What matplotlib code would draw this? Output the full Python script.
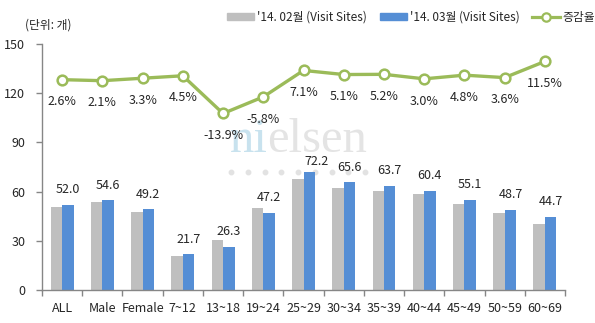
import matplotlib.pyplot as plt
import numpy as np
from matplotlib.lines import Line2D
from matplotlib.patches import Patch

plt.rcParams['font.family'] = ['Noto Sans CJK KR', 'DejaVu Sans']

groups = ["ALL", "Male", "Female", "7~12", "13~18", "19~24", "25~29",
          "30~34", "35~39", "40~44", "45~49", "50~59", "60~69"]
feb_sites = [50.7, 53.5, 47.6, 20.8, 30.5, 50.1, 67.4, 62.4, 60.6, 58.6, 52.6, 47.0, 40.1]
mar_sites = [52.0, 54.6, 49.2, 21.7, 26.3, 47.2, 72.2, 65.6, 63.7, 60.4, 55.1, 48.7, 44.7]
growth = [2.6, 2.1, 3.3, 4.5, -13.9, -5.8, 7.1, 5.1, 5.2, 3.0, 4.8, 3.6, 11.5]

GRAY = '#BFBFBF'
BLUE = '#558ED5'
GREEN = '#9BBB59'
AXIS = '#868686'
TXT = '#262626'

fig = plt.figure(figsize=(5.95, 3.23), dpi=100)
ax = fig.add_axes([0.0706, 0.1022, 0.879, 0.7616])
ax.patch.set_visible(False)

# watermark behind everything
t1 = fig.text(0.386, 0.498, "ni", family='Liberation Serif', fontsize=35,
              color='#C8E2EE', ha='left', va='bottom', zorder=-1)
ax.annotate("elsen", xy=(1, 0), xycoords=t1, family='Liberation Serif', fontsize=35,
            color='#E4E4E4', ha='left', va='bottom', zorder=0, annotation_clip=False)
dots_x = np.linspace(231, 365, 9) / 595
fig.add_artist(Line2D(dots_x, [1 - 172 / 323] * 9, ls='none', marker='o', ms=3.2,
                      color='#E2E2E2', transform=fig.transFigure, zorder=-1))

x = np.arange(len(groups))
w = 0.285
ax.bar(x - w / 2, feb_sites, w, color=GRAY, zorder=2)
ax.bar(x + w / 2, mar_sites, w, color=BLUE, zorder=2)

# value labels over the March bars (25~29 label pushed aside a little)
nudge = {6: (5, -4)}
for i, v in enumerate(mar_sites):
    dx, dy = nudge.get(i, (0, 0))
    ax.annotate(f"{v:.1f}", (x[i] + w / 2, v), xytext=(dx, 11 + dy),
                textcoords='offset points', ha='center', va='center',
                fontsize=9, color=TXT, zorder=5)

ax.set_xlim(-0.5, len(groups) - 0.5)
ax.set_ylim(0, 150)
ax.set_yticks(range(0, 151, 30))
ax.set_xticks(np.arange(-0.5, len(groups), 1.0))
ax.set_xticklabels([])
ax.set_xticks(x, minor=True)
ax.set_xticklabels(groups, minor=True)
ax.tick_params(axis='x', which='major', length=4, color=AXIS, width=1)
ax.tick_params(axis='x', which='minor', length=0, pad=9, labelsize=9, labelcolor=TXT)
ax.tick_params(axis='y', length=4, color=AXIS, width=1, pad=8, labelsize=9, labelcolor=TXT)
for s in ('top', 'right'):
    ax.spines[s].set_visible(False)
for s in ('left', 'bottom'):
    ax.spines[s].set_color(AXIS)
    ax.spines[s].set_linewidth(1)

# growth rate on a hidden secondary scale
ax2 = ax.twinx()
ax2.set_ylim(-100, 20)
ax2.axis('off')
ax2.plot(x, growth, color=GREEN, lw=2.4, marker='o', ms=7, mfc='white',
         mec=GREEN, mew=1.8, zorder=4)
for i, g in enumerate(growth):
    ax2.annotate(f"{g:.1f}%", (x[i], g), xytext=(0, -16), textcoords='offset points',
                 ha='center', va='center', fontsize=9, color=TXT)

fig.text(0.042, 0.922, "(단위: 개)", fontsize=8.5, color=TXT, ha='left', va='center')

handles = [Patch(color=GRAY), Patch(color=BLUE),
           Line2D([], [], color=GREEN, lw=2.3, marker='o', ms=6, mfc='white',
                  mec=GREEN, mew=1.6)]
labels = ["'14. 02월 (Visit Sites)", "'14. 03월 (Visit Sites)", "증감율"]
fig.legend(handles, labels, loc='upper right', bbox_to_anchor=(1.018, 1.0), ncol=3,
           frameon=False, fontsize=8.5, handlelength=2.3, handleheight=0.6,
           handletextpad=0.25, columnspacing=1.1, labelcolor=TXT)

fig.savefig('out.png', dpi=100)
